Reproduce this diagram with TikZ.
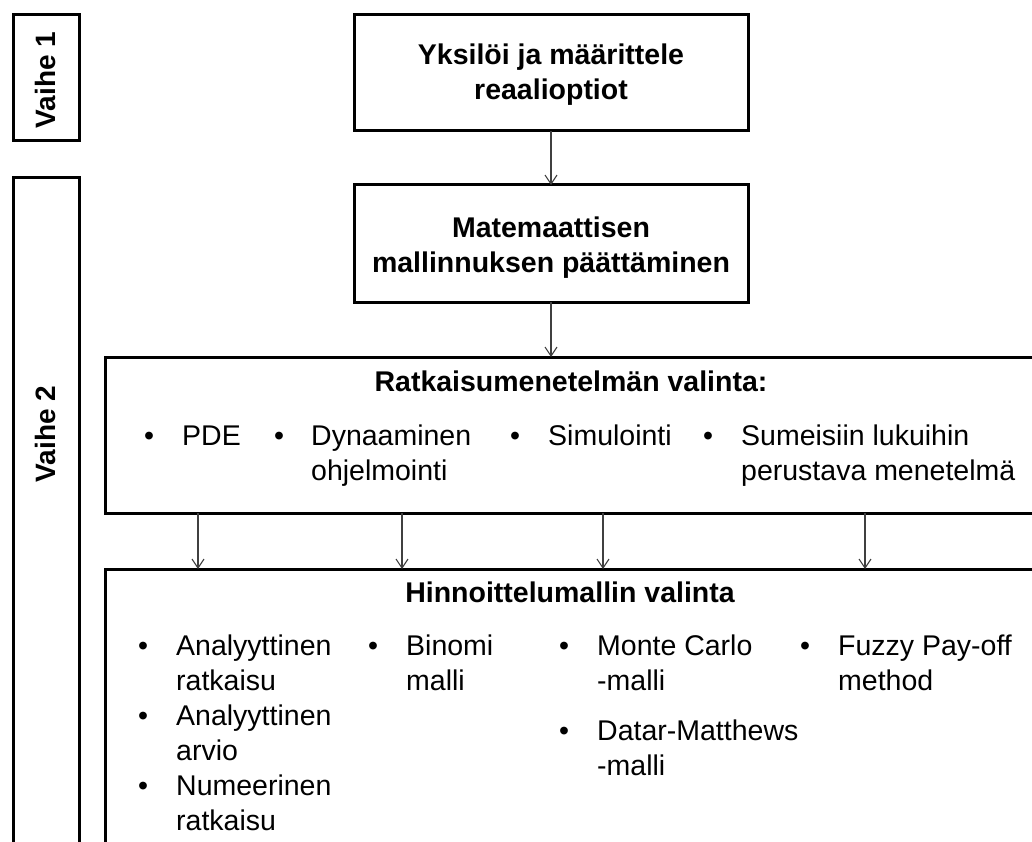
\documentclass[tikz,border=0pt]{standalone}
\usepackage{fontspec}
\setmainfont{Liberation Sans}
\usetikzlibrary{arrows.meta}
\begin{document}
\begin{tikzpicture}[x=1pt,y=-1pt,
  box/.style={draw=black, line width=3pt, inner sep=0pt, outer sep=0pt, anchor=north west, rectangle},
  arr/.style={draw=black!75, line width=1.1pt, -{Straight Barb[length=9pt,width=12pt,line width=1.1pt]}},
  ttl/.style={font=\fontsize{28.5}{35}\selectfont\bfseries, align=center, anchor=base, inner sep=0pt},
  lbl/.style={font=\fontsize{28}{34}\selectfont\bfseries, rotate=90, inner sep=0pt},
  txt/.style={font=\fontsize{28.5}{35}\selectfont, anchor=base west, inner sep=0pt, align=left},
  bul/.style={font=\fontsize{28.5}{35}\selectfont, anchor=base, inner sep=0pt},
]
\useasboundingbox (0,0) rectangle (1032,842);
\fill[white] (0,0) rectangle (1032,842);
\clip (0,0) rectangle (1032,842);

% phase labels
\node[box, minimum width=66pt, minimum height=126pt] (v1) at (13,15) {};
\node[lbl] (v1t) at (45,80) {Vaihe 1};
\node[box, minimum width=66pt, minimum height=720pt] (v2) at (13,178) {};
\node[lbl] (v2t) at (45,434) {Vaihe 2};

% main boxes
\node[box, minimum width=394pt, minimum height=116pt] (b1) at (354,15) {};
\node[ttl] (t1) at (551,100) {Yksilöi ja määrittele\\reaalioptiot};
\node[box, minimum width=394pt, minimum height=117pt] (b2) at (354,185) {};
\node[ttl] (t2) at (551,272) {Matemaattisen\\mallinnuksen päättäminen};
\node[box, minimum width=928pt, minimum height=156pt] (b3) at (105,357) {};
\node[box, minimum width=928pt, minimum height=350pt] (b4) at (105,569) {};

% titles
\node[ttl] (t3) at (571,391) {Ratkaisumenetelmän valinta:};
\node[ttl] (t4) at (570,602) {Hinnoittelumallin valinta};

% box 3 items
\node[bul] (p1) at (149,445) {•};
\node[txt] (q1) at (182,445) {PDE};
\node[bul] (p2) at (279,445) {•};
\node[txt] (q2) at (311,480) {Dynaaminen\\ohjelmointi};
\node[bul] (p3) at (515,445) {•};
\node[txt] (q3) at (548,445) {Simulointi};
\node[bul] (p4) at (708,445) {•};
\node[txt] (q4) at (741,480) {Sumeisiin lukuihin\\perustava menetelmä};

% box 4 items
\node[bul] (r1) at (143,655) {•};
\node[txt] (s1) at (176,690) {Analyyttinen\\ratkaisu};
\node[bul] (r2) at (143,725) {•};
\node[txt] (s2) at (176,760) {Analyyttinen\\arvio};
\node[bul] (r3) at (143,795) {•};
\node[txt] (s3) at (176,830) {Numeerinen\\ratkaisu};
\node[bul] (r4) at (373,655) {•};
\node[txt] (s4) at (406,690) {Binomi\\malli};
\node[bul] (r5) at (564,655) {•};
\node[txt] (s5) at (597,690) {Monte Carlo\\-malli};
\node[bul] (r6) at (564,740) {•};
\node[txt] (s6) at (597,775) {Datar-Matthews\\-malli};
\node[bul] (r7) at (805,655) {•};
\node[txt] (s7) at (838,690) {Fuzzy Pay-off\\method};

% connectors
\coordinate (a1) at (198,0);
\coordinate (a2) at (402,0);
\coordinate (a3) at (603,0);
\coordinate (a4) at (865,0);
\draw[arr] (b1.south) -- (b2.north);
\draw[arr] (b2.south) -- (b2.south |- b3.north);
\draw[arr] (b3.south -| a1) -- (b4.north -| a1);
\draw[arr] (b3.south -| a2) -- (b4.north -| a2);
\draw[arr] (b3.south -| a3) -- (b4.north -| a3);
\draw[arr] (b3.south -| a4) -- (b4.north -| a4);
\end{tikzpicture}
\end{document}
